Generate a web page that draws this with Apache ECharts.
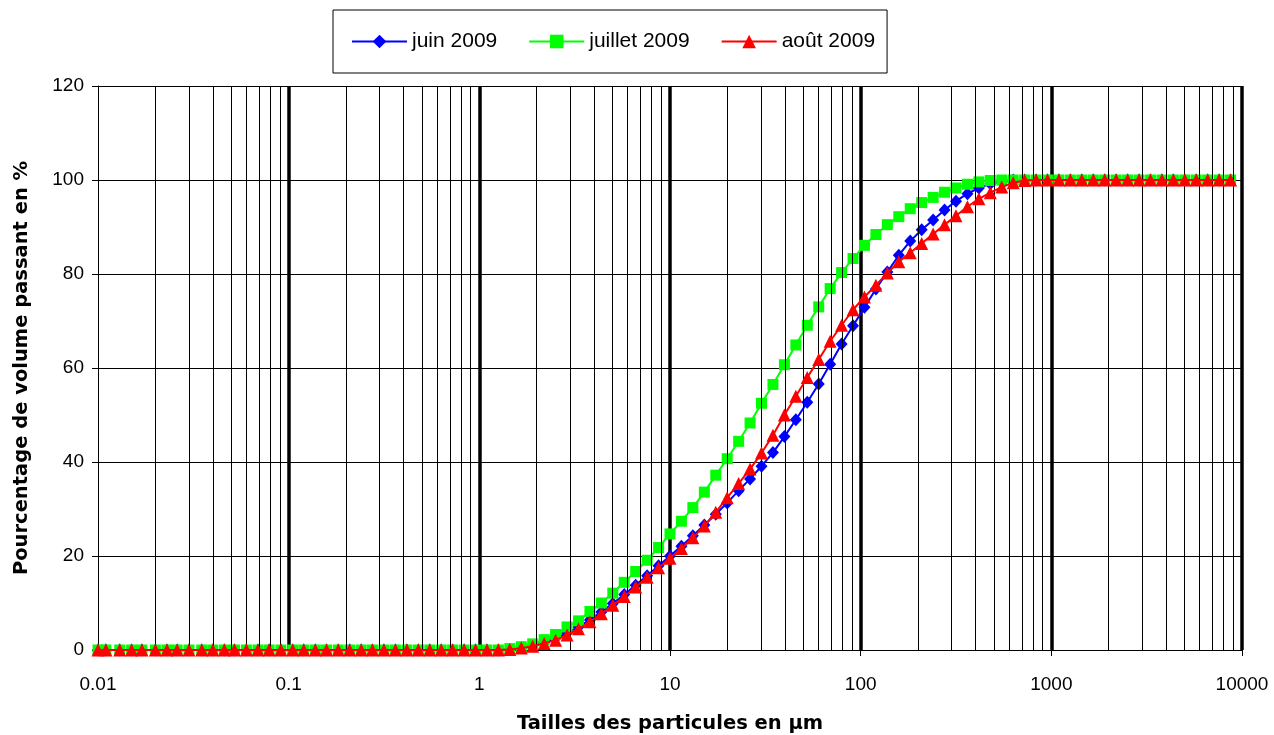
<!DOCTYPE html>
<html>
<head>
<meta charset="utf-8">
<script src="https://cdn.jsdelivr.net/npm/echarts@6/dist/echarts.min.js"></script>
<style>
  html, body { margin: 0; padding: 0; background: #fff; }
  #chart { width: 1274px; height: 735px; }
</style>
</head>
<body>
<div id="chart"></div>
<script>
// Particle size classes (µm), laser granulometry
const sizes = [
  0.010, 0.011, 0.013, 0.015, 0.017, 0.020, 0.023, 0.026, 0.030, 0.035,
  0.040, 0.046, 0.052, 0.060, 0.069, 0.079, 0.091, 0.105, 0.120, 0.138,
  0.158, 0.182, 0.209, 0.240, 0.275, 0.316, 0.363, 0.417, 0.479, 0.550,
  0.631, 0.724, 0.832, 0.955, 1.096, 1.259, 1.445, 1.660, 1.905, 2.188,
  2.512, 2.884, 3.311, 3.802, 4.365, 5.012, 5.754, 6.607, 7.586, 8.710,
  10.00, 11.48, 13.18, 15.14, 17.38, 19.95, 22.91, 26.30, 30.20, 34.67,
  39.81, 45.71, 52.48, 60.26, 69.18, 79.43, 91.20, 104.7, 120.2, 138.0,
  158.5, 182.0, 208.9, 239.9, 275.4, 316.2, 363.1, 416.9, 478.6, 549.5,
  631.0, 724.4, 831.8, 955.0, 1096, 1259, 1445, 1660, 1905, 2188,
  2512, 2884, 3311, 3802, 4365, 5012, 5754, 6607, 7586, 8710
];

// Cumulative passing volume (%) per size class
const juin = [
  0, 0, 0, 0, 0, 0, 0, 0, 0, 0,
  0, 0, 0, 0, 0, 0, 0, 0, 0, 0,
  0, 0, 0, 0, 0, 0, 0, 0, 0, 0,
  0, 0, 0, 0, 0, 0, 0.1, 0.5, 1.0, 1.7,
  2.5, 3.6, 4.9, 6.4, 8.1, 9.9, 11.8, 13.8, 15.8, 17.9,
  20.0, 22.1, 24.3, 26.6, 28.9, 31.3, 33.9, 36.4, 39.1, 42.0,
  45.4, 49.0, 52.7, 56.6, 60.8, 65.1, 69.0, 72.9, 76.8, 80.4,
  84.0, 87.0, 89.4, 91.5, 93.6, 95.5, 97.1, 98.3, 99.2, 99.7,
  100, 100, 100, 100, 100, 100, 100, 100, 100, 100,
  100, 100, 100, 100, 100, 100, 100, 100, 100, 100
];
const juillet = [
  0, 0, 0, 0, 0, 0, 0, 0, 0, 0,
  0, 0, 0, 0, 0, 0, 0, 0, 0, 0,
  0, 0, 0, 0, 0, 0, 0, 0, 0, 0,
  0, 0, 0, 0, 0, 0, 0.3, 0.7, 1.3, 2.2,
  3.3, 4.9, 6.2, 8.2, 10.0, 12.1, 14.4, 16.7, 19.1, 21.8,
  24.7, 27.4, 30.3, 33.6, 37.2, 40.7, 44.4, 48.3, 52.5, 56.5,
  60.7, 64.9, 69.1, 73.0, 76.9, 80.3, 83.3, 86.1, 88.4, 90.5,
  92.2, 93.9, 95.2, 96.3, 97.4, 98.3, 99.1, 99.6, 99.9, 100,
  100, 100, 100, 100, 100, 100, 100, 100, 100, 100,
  100, 100, 100, 100, 100, 100, 100, 100, 100, 100
];
const aout = [
  0, 0, 0, 0, 0, 0, 0, 0, 0, 0,
  0, 0, 0, 0, 0, 0, 0, 0, 0, 0,
  0, 0, 0, 0, 0, 0, 0, 0, 0, 0,
  0, 0, 0, 0, 0, 0, 0.1, 0.4, 0.8, 1.4,
  2.1, 3.2, 4.5, 6.0, 7.7, 9.5, 11.4, 13.4, 15.5, 17.5,
  19.5, 21.6, 23.9, 26.4, 29.3, 32.4, 35.4, 38.5, 41.9, 45.7,
  50.0, 54.0, 58.0, 61.8, 65.7, 69.1, 72.4, 75.1, 77.6, 80.2,
  82.6, 84.5, 86.5, 88.5, 90.5, 92.4, 94.3, 96.0, 97.3, 98.5,
  99.4, 99.9, 100, 100, 100, 100, 100, 100, 100, 100,
  100, 100, 100, 100, 100, 100, 100, 100, 100, 100
];

const seriesNames = ['juin 2009', 'juillet 2009', 'août 2009'];
const xTickLabels = ['0.01', '0.1', '1', '10', '100', '1000', '10000'];
const yTicks = [0, 20, 40, 60, 80, 100, 120];

// Thin grid lines at 2..9 within each decade
const minorLines = [];
for (let d = -2; d < 4; d++) {
  for (let m = 2; m <= 9; m++) minorLines.push(+(m * Math.pow(10, d)).toPrecision(3));
}

const pairs = (vals) => sizes.map((s, i) => [s, vals[i]]);

const chart = echarts.init(document.getElementById('chart'), null, { renderer: 'canvas' });

const tickFont = { fontFamily: 'Liberation Sans, Arial, sans-serif', fontSize: 19, color: '#000' };
const titleFont = { fontFamily: 'DejaVu Sans, sans-serif', fontSize: 19.5, fontWeight: 'bold', color: '#000' };

chart.setOption({
  animation: false,
  backgroundColor: '#fff',
  legend: {
    data: seriesNames,
    left: 333,
    top: 10,
    itemWidth: 55,
    itemHeight: 17,
    itemGap: 31,
    padding: [21, 12, 21, 18],
    borderColor: '#000',
    borderWidth: 1,
    backgroundColor: '#fff',
    textStyle: { fontFamily: 'Liberation Sans, Arial, sans-serif', fontSize: 21, color: '#000' }
  },
  grid: { left: 98, right: 32, top: 86, bottom: 85, containLabel: false, outerBoundsMode: 'none' },
  xAxis: {
    type: 'log',
    logBase: 10,
    min: 0.01,
    max: 10000,
    splitNumber: 6,
    name: 'Tailles des particules en µm',
    nameLocation: 'middle',
    nameGap: 64,
    nameTextStyle: titleFont,
    axisLine: { show: true, lineStyle: { color: '#000', width: 1 } },
    axisTick: { show: true, inside: false, length: 6, lineStyle: { color: '#000' } },
    axisLabel: {
      margin: 25,
      ...tickFont,
      formatter: (v) => xTickLabels[Math.round(Math.log10(v)) + 2]
    },
    splitLine: { show: true, showMinLine: false, lineStyle: { color: '#000', width: 3.5 } },
    minorTick: { show: false },
    minorSplitLine: { show: false }
  },
  yAxis: {
    type: 'value',
    min: yTicks[0],
    max: yTicks[yTicks.length - 1],
    interval: 20,
    name: 'Pourcentage de volume passant en %',
    nameLocation: 'middle',
    nameGap: 66,
    nameTextStyle: titleFont,
    axisLine: { show: true, lineStyle: { color: '#000', width: 1 } },
    axisTick: { show: true, inside: false, length: 6, lineStyle: { color: '#000' } },
    axisLabel: { margin: 14, ...tickFont },
    splitLine: { show: true, lineStyle: { color: '#000', width: 1 } }
  },
  series: [
    {
      // minor vertical grid lines
      type: 'line',
      data: [],
      silent: true,
      z: 1,
      markLine: {
        silent: true,
        symbol: ['none', 'none'],
        label: { show: false },
        emphasis: { disabled: true },
        lineStyle: { color: '#000', width: 1, type: 'solid' },
        data: minorLines.map((v) => ({ xAxis: v }))
      }
    },
    {
      name: seriesNames[0],
      type: 'line',
      data: pairs(juin),
      symbol: 'diamond',
      symbolSize: [12, 13],
      z: 3,
      itemStyle: { color: '#0000ff' },
      lineStyle: { color: '#0000ff', width: 2 }
    },
    {
      name: seriesNames[1],
      type: 'line',
      data: pairs(juillet),
      symbol: 'rect',
      symbolSize: 11,
      z: 4,
      itemStyle: { color: '#00ff00' },
      lineStyle: { color: '#00ff00', width: 2 }
    },
    {
      name: seriesNames[2],
      type: 'line',
      data: pairs(aout),
      symbol: 'triangle',
      symbolSize: 13,
      z: 5,
      itemStyle: { color: '#ff0000' },
      lineStyle: { color: '#ff0000', width: 2 }
    }
  ]
});
</script>
</body>
</html>
